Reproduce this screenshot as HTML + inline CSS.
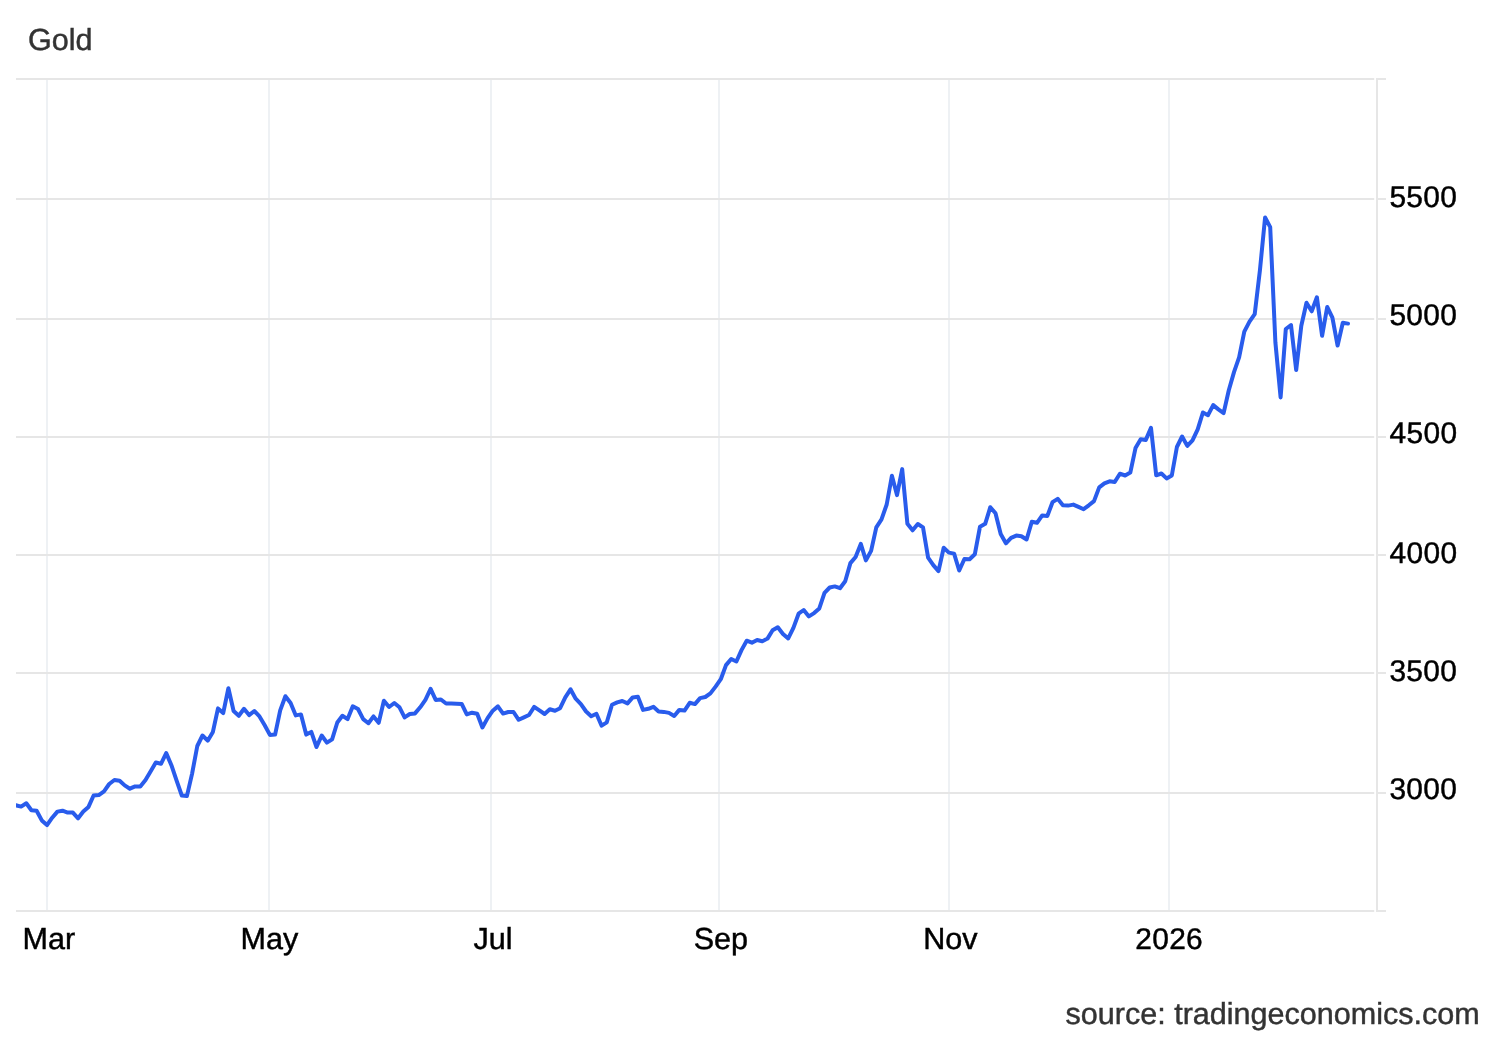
<!DOCTYPE html>
<html lang="en"><head><meta charset="utf-8"><title>Gold</title>
<style>
html,body{margin:0;padding:0;background:#fff;}
body{width:1500px;height:1040px;position:relative;overflow:hidden;text-rendering:geometricPrecision;font-family:"Liberation Sans",Arial,Helvetica,sans-serif;}
.chart{position:absolute;left:0;top:0;}
.t{position:absolute;left:0;top:0;line-height:36px;color:#000;white-space:nowrap;transform-origin:0 0;-webkit-text-stroke:0.45px currentColor;}
.t.g{color:#333;}
</style></head><body>
<svg class="chart" width="1500" height="1040" viewBox="0 0 1500 1040">
<defs><clipPath id="pc"><rect x="16" y="80" width="1359" height="830"/></clipPath></defs>
<g class="vgrid" fill="#eef1f4">
<rect x="46" y="80" width="2" height="830"/>
<rect x="268" y="80" width="2" height="830"/>
<rect x="490" y="80" width="2" height="830"/>
<rect x="718" y="80" width="2" height="830"/>
<rect x="948" y="80" width="2" height="830"/>
<rect x="1168" y="80" width="2" height="830"/>
</g>
<g class="hgrid" fill="#e6e6e6">
<rect x="16" y="78" width="1358.2" height="2"/>
<rect x="1376" y="78" width="10" height="2"/>
<rect x="16" y="198" width="1358.2" height="2"/>
<rect x="1376" y="198" width="10" height="2"/>
<rect x="16" y="318" width="1358.2" height="2"/>
<rect x="1376" y="318" width="10" height="2"/>
<rect x="16" y="436" width="1358.2" height="2"/>
<rect x="1376" y="436" width="10" height="2"/>
<rect x="16" y="554" width="1358.2" height="2"/>
<rect x="1376" y="554" width="10" height="2"/>
<rect x="16" y="672" width="1358.2" height="2"/>
<rect x="1376" y="672" width="10" height="2"/>
<rect x="16" y="792" width="1358.2" height="2"/>
<rect x="1376" y="792" width="10" height="2"/>
<rect x="16" y="910" width="1358.2" height="2"/>
<rect x="1376" y="910" width="10" height="2"/>
<rect x="1376" y="78" width="2" height="834"/>
</g>
<path class="series" d="M15.9 805.3 L21.1 806.6 L26.3 803.3 L31.4 810.3 L36.6 810.7 L41.8 820.4 L47.0 825.1 L52.2 817.7 L57.4 811.6 L62.5 810.7 L67.7 812.6 L72.9 812.6 L78.1 818.3 L83.3 811.6 L88.5 806.9 L93.6 795.5 L98.8 795.1 L104.0 791.4 L109.2 784.0 L114.4 780.0 L119.6 780.7 L124.7 785.4 L129.9 788.7 L135.1 786.4 L140.3 786.4 L145.5 780.0 L150.7 771.2 L155.8 762.5 L161.0 763.8 L166.2 753.1 L171.4 765.2 L176.6 780.7 L181.8 795.5 L186.9 796.1 L192.1 773.6 L197.3 746.0 L202.5 735.5 L207.7 740.7 L212.9 731.9 L218.0 708.4 L223.2 713.1 L228.4 688.2 L233.6 711.0 L238.8 715.8 L244.0 708.8 L249.1 715.1 L254.3 711.0 L259.5 716.4 L264.7 725.2 L269.9 734.9 L275.1 734.6 L280.2 710.4 L285.4 696.2 L290.6 703.0 L295.8 715.4 L301.0 714.4 L306.2 734.6 L311.3 731.9 L316.5 747.0 L321.7 735.5 L326.9 742.7 L332.1 739.3 L337.3 722.5 L342.4 715.8 L347.6 719.1 L352.8 706.3 L358.0 709.0 L363.2 719.1 L368.4 723.2 L373.5 716.4 L378.7 722.8 L383.9 700.8 L389.1 707.0 L394.3 703.0 L399.5 707.3 L404.6 717.4 L409.8 714.0 L415.0 713.4 L420.2 707.3 L425.4 699.9 L430.6 688.9 L435.7 699.9 L440.9 699.5 L446.1 703.5 L451.3 703.5 L456.5 703.7 L461.7 703.9 L466.8 714.4 L472.0 712.7 L477.2 713.8 L482.4 727.5 L487.6 718.1 L492.8 710.7 L497.9 706.4 L503.1 713.6 L508.3 712.0 L513.5 712.0 L518.7 719.8 L523.9 717.4 L529.0 715.0 L534.2 706.9 L539.4 710.4 L544.6 714.0 L549.8 709.3 L555.0 710.7 L560.1 708.2 L565.3 697.4 L570.5 689.3 L575.7 698.7 L580.9 704.1 L586.1 711.5 L591.2 716.2 L596.4 713.8 L601.6 725.7 L606.8 722.3 L612.0 704.8 L617.2 702.4 L622.3 701.0 L627.5 703.4 L632.7 697.4 L637.9 696.7 L643.1 709.9 L648.3 708.8 L653.4 706.8 L658.6 711.5 L663.8 711.9 L669.0 712.9 L674.2 716.0 L679.3 709.9 L684.5 710.6 L689.7 702.8 L694.9 704.1 L700.1 698.1 L705.3 697.0 L710.4 693.4 L715.6 686.6 L720.8 679.2 L726.0 665.1 L731.2 659.0 L736.4 661.5 L741.5 650.1 L746.7 640.7 L751.9 642.7 L757.1 640.0 L762.3 641.3 L767.5 638.6 L772.6 630.3 L777.8 627.2 L783.0 633.9 L788.2 638.4 L793.4 627.9 L798.6 613.7 L803.7 610.0 L808.9 616.4 L814.1 613.1 L819.3 608.4 L824.5 592.9 L829.7 587.5 L834.8 586.4 L840.0 588.2 L845.2 581.2 L850.4 563.1 L855.6 557.0 L860.8 543.9 L865.9 560.4 L871.1 550.9 L876.3 527.4 L881.5 519.3 L886.7 504.5 L891.9 475.8 L897.0 495.1 L902.2 469.1 L907.4 523.8 L912.6 530.3 L917.8 524.0 L923.0 527.4 L928.1 557.7 L933.3 565.1 L938.5 571.1 L943.7 547.8 L948.9 552.6 L954.1 553.6 L959.2 570.5 L964.4 559.0 L969.6 559.3 L974.8 554.3 L980.0 526.7 L985.2 523.8 L990.3 507.2 L995.5 513.3 L1000.7 534.1 L1005.9 543.3 L1011.1 537.9 L1016.3 535.6 L1021.4 536.2 L1026.6 539.5 L1031.8 521.7 L1037.0 522.8 L1042.2 515.4 L1047.4 515.9 L1052.5 502.2 L1057.7 498.8 L1062.9 505.2 L1068.1 505.6 L1073.3 504.6 L1078.5 506.9 L1083.6 509.2 L1088.8 505.3 L1094.0 501.1 L1099.2 487.4 L1104.4 483.4 L1109.6 481.3 L1114.7 482.0 L1119.9 473.7 L1125.1 475.5 L1130.3 472.6 L1135.5 448.1 L1140.7 439.3 L1145.8 439.9 L1151.0 427.9 L1156.2 475.3 L1161.4 473.5 L1166.6 478.4 L1171.8 475.5 L1176.9 447.0 L1182.1 436.5 L1187.3 445.9 L1192.5 440.3 L1197.7 429.3 L1202.9 412.5 L1208.0 415.2 L1213.2 405.1 L1218.4 409.4 L1223.6 413.1 L1228.8 390.3 L1234.0 372.1 L1239.1 357.3 L1244.3 331.7 L1249.5 321.6 L1254.7 314.2 L1259.9 270.5 L1265.1 217.4 L1270.2 227.1 L1275.4 342.5 L1280.6 397.4 L1285.8 329.0 L1291.0 325.0 L1296.2 370.1 L1301.3 325.7 L1306.5 302.8 L1311.7 311.3 L1316.9 297.3 L1322.1 335.8 L1327.2 307.0 L1332.4 317.6 L1337.6 345.6 L1342.8 322.7 L1348.0 323.6" fill="none" stroke="#295cec" stroke-width="4.0" stroke-linejoin="round" stroke-linecap="round" clip-path="url(#pc)"/>
</svg>
<div id="title" class="t g" style="font-size:30.4px;transform:translate(27.89px,22px) scaleX(1.005)">Gold</div>
<div id="src" class="t g" style="font-size:30.4px;transform:translate(1065.56px,996px) scaleX(1.005)">source: tradingeconomics.com</div>
<div id="y5500" class="t" style="font-size:29.9px;letter-spacing:0.3px;transform:translate(1389.45px,180px)">5500</div>
<div id="y5000" class="t" style="font-size:29.9px;letter-spacing:0.3px;transform:translate(1389.45px,298px)">5000</div>
<div id="y4500" class="t" style="font-size:29.9px;letter-spacing:0.3px;transform:translate(1389.62px,416px)">4500</div>
<div id="y4000" class="t" style="font-size:29.9px;letter-spacing:0.3px;transform:translate(1389.62px,536px)">4000</div>
<div id="y3500" class="t" style="font-size:29.9px;letter-spacing:0.3px;transform:translate(1389.39px,654px)">3500</div>
<div id="y3000" class="t" style="font-size:29.9px;letter-spacing:0.3px;transform:translate(1389.39px,772px)">3000</div>
<div id="xMar" class="t" style="font-size:30.4px;transform:translate(22.56px,921px) scaleX(1.005)">Mar</div>
<div id="xMay" class="t" style="font-size:30.4px;transform:translate(240.58px,921px) scaleX(1.005)">May</div>
<div id="xJul" class="t" style="font-size:30.4px;transform:translate(473.38px,921px) scaleX(1.005)">Jul</div>
<div id="xSep" class="t" style="font-size:30.4px;transform:translate(693.64px,921px) scaleX(1.005)">Sep</div>
<div id="xNov" class="t" style="font-size:30.4px;transform:translate(923.28px,921px) scaleX(1.005)">Nov</div>
<div id="x2026" class="t" style="font-size:29.9px;letter-spacing:0.3px;transform:translate(1135.34px,922px)">2026</div>
</body></html>
